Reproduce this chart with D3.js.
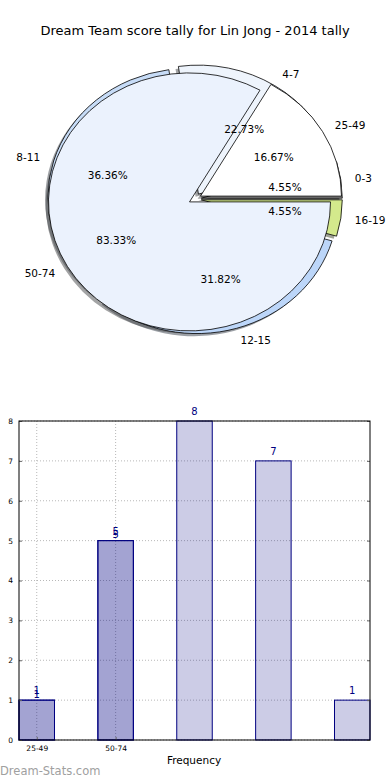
<!DOCTYPE html>
<html>
<head>
<meta charset="utf-8">
<script src="https://cdn.jsdelivr.net/npm/d3@7"></script>
<style>
body { margin: 0; background: #fff; }
text { font-family: "DejaVu Sans", sans-serif; }
</style>
</head>
<body>
<div id="chart"></div>
<script>
// weekly score bands (first pie + bars)
var weeklyLabels = ["0-3", "4-7", "8-11", "12-15", "16-19"];
var weeklyCounts = [1, 5, 8, 7, 1];
var weeklyColors = ["#8c8c8c", "#eef4fc", "#c7dcf7", "#bcd6f9", "#d4e98c"];

// big score bands (second pie, drawn on top)
var bigLabels = ["25-49", "50-74"];
var bigCounts = [1, 5];
var bigColors = ["#ffffff", "#ebf2fd"];

// bar chart ticks
var barTickLabels = ["25-49", "50-74"];
var yTicks = [0, 1, 2, 3, 4, 5, 6, 7, 8];

var W = 390, H = 780;
var svg = d3.select("#chart").append("svg")
    .attr("width", W)
    .attr("height", H);

svg.append("text")
    .attr("x", 195)
    .attr("y", 35)
    .attr("text-anchor", "middle")
    .style("font-size", "13px")
    .text("Dream Team score tally for Lin Jong - 2014 tally");

/*
 * Pies
 */
var cx = 195, cy = 199, rx = 141, ry = 129, explode = 0.045;
var k = ry / rx;

var pie = d3.pie()
    .sort(null)
    .startAngle(Math.PI / 2)
    .endAngle(Math.PI / 2 - 2 * Math.PI);

var arc = d3.arc()
    .innerRadius(0)
    .outerRadius(rx);

function buildSlices(counts, colors, labels) {
    var total = d3.sum(counts);
    return pie(counts).map(function(a, i) {
        var m = (a.startAngle + a.endAngle) / 2;
        return {
            arc: a,
            color: colors[i],
            label: labels[i],
            pct: d3.format(".2f")(counts[i] / total * 100) + "%",
            ux: Math.sin(m),
            uy: -Math.cos(m)
        };
    });
}

var slices1 = buildSlices(weeklyCounts, weeklyColors, weeklyLabels);
var slices2 = buildSlices(bigCounts, bigColors, bigLabels);

var pieG = svg.append("g")
    .attr("transform", "translate(" + cx + "," + cy + ") scale(1," + k + ")");

function offset(d, dx, dy) {
    return "translate(" + (explode * rx * d.ux + dx) + "," + (explode * rx * d.uy + dy) + ")";
}

// shadows first (below every wedge)
[slices1, slices2].forEach(function(slices) {
    pieG.append("g").selectAll("path")
        .data(slices)
        .enter().append("path")
        .attr("d", function(d) { return arc(d.arc); })
        .attr("transform", function(d) { return offset(d, -0.02 * rx, 0.02 * rx); })
        .attr("fill", function(d) {
            var c = d3.rgb(d.color);
            return d3.rgb(c.r * 0.3, c.g * 0.3, c.b * 0.3);
        })
        .attr("fill-opacity", 0.5);
});

[slices1, slices2].forEach(function(slices) {
    pieG.append("g").selectAll("path")
        .data(slices)
        .enter().append("path")
        .attr("d", function(d) { return arc(d.arc); })
        .attr("transform", function(d) { return offset(d, 0, 0); })
        .attr("fill", function(d) { return d.color; })
        .attr("stroke", "#000")
        .attr("stroke-width", 0.8)
        .attr("vector-effect", "non-scaling-stroke")
        .attr("stroke-linejoin", "round");
});

[slices1, slices2].forEach(function(slices) {
    var g = svg.append("g");
    g.selectAll("text.lab")
        .data(slices)
        .enter().append("text")
        .attr("class", "lab")
        .attr("x", function(d) { return cx + (explode + 1.1) * rx * d.ux; })
        .attr("y", function(d) { return cy + (explode + 1.1) * ry * d.uy; })
        .attr("dy", "0.35em")
        .attr("text-anchor", function(d) { return d.ux > 0 ? "start" : "end"; })
        .style("font-size", "10.5px")
        .text(function(d) { return d.label; });
    g.selectAll("text.pct")
        .data(slices)
        .enter().append("text")
        .attr("class", "pct")
        .attr("x", function(d) { return cx + (explode + 0.6) * rx * d.ux; })
        .attr("y", function(d) { return cy + (explode + 0.6) * ry * d.uy; })
        .attr("dy", "0.35em")
        .attr("text-anchor", "middle")
        .style("font-size", "10.5px")
        .text(function(d) { return d.pct; });
});

/*
 * Bars
 */
var plotLeft = 19, plotRight = 370, plotTop = 421, plotBottom = 740;
var barW = 0.45;

var x = d3.scaleLinear().domain([0, 4.45]).range([plotLeft, plotRight]);
var y = d3.scaleLinear().domain([0, 8]).range([plotBottom, plotTop]);

var barG = svg.append("g");

// grid
barG.append("g").selectAll("line")
    .data(yTicks)
    .enter().append("line")
    .attr("x1", plotLeft).attr("x2", plotRight)
    .attr("y1", function(d) { return y(d); })
    .attr("y2", function(d) { return y(d); })
    .attr("stroke", "#b8b8b8")
    .attr("stroke-dasharray", "1,2");

barG.append("g").selectAll("line")
    .data(barTickLabels)
    .enter().append("line")
    .attr("x1", function(d, i) { return x(i + barW / 2); })
    .attr("x2", function(d, i) { return x(i + barW / 2); })
    .attr("y1", plotTop).attr("y2", plotBottom)
    .attr("stroke", "#b8b8b8")
    .attr("stroke-dasharray", "1,2");

[weeklyCounts, bigCounts].forEach(function(vals, s) {
    barG.append("g").selectAll("rect")
        .data(vals)
        .enter().append("rect")
        .attr("x", function(d, i) { return x(i); })
        .attr("width", function(d, i) { return x(i + barW) - x(i); })
        .attr("y", function(d) { return y(d); })
        .attr("height", function(d) { return y(0) - y(d); })
        .attr("fill", "navy")
        .attr("fill-opacity", 0.2)
        .attr("stroke", "navy")
        .attr("stroke-width", 1);
});

[weeklyCounts, bigCounts].forEach(function(vals, s) {
    barG.append("g").selectAll("text")
        .data(vals)
        .enter().append("text")
        .attr("x", function(d, i) { return x(i + barW / 2); })
        .attr("y", function(d) { return y(d) - (s === 0 ? 9.5 : 6); })
        .attr("dy", "0.35em")
        .attr("text-anchor", "middle")
        .attr("fill", "navy")
        .style("font-size", "10px")
        .text(function(d) { return d; });
});

// axes
var yAxis = d3.axisLeft(y).tickValues(yTicks).tickSize(-3).tickPadding(6);
var yAxisR = d3.axisRight(y).tickValues(yTicks).tickSize(-3).tickFormat("");
var xAxis = d3.axisBottom(x)
    .tickValues(barTickLabels.map(function(d, i) { return i + barW / 2; }))
    .tickFormat(function(d, i) { return barTickLabels[i]; })
    .tickSize(-3).tickPadding(6);

function styleAxis(g) {
    g.select(".domain").remove();
    g.selectAll(".tick line").attr("stroke", "#666");
    g.selectAll(".tick text")
        .style("font-family", "'DejaVu Sans', sans-serif")
        .style("font-size", "7.5px")
        .attr("fill", "#000");
}

svg.append("g").attr("transform", "translate(" + plotLeft + ",0)").call(yAxis).call(styleAxis);
svg.append("g").attr("transform", "translate(" + plotRight + ",0)").call(yAxisR).call(styleAxis);
svg.append("g").attr("transform", "translate(0," + plotBottom + ")").call(xAxis).call(styleAxis);

svg.append("rect")
    .attr("x", plotLeft).attr("y", plotTop)
    .attr("width", plotRight - plotLeft).attr("height", plotBottom - plotTop)
    .attr("fill", "none")
    .attr("stroke", "#000")
    .attr("stroke-width", 1);

svg.append("text")
    .attr("x", 194)
    .attr("y", 764)
    .attr("text-anchor", "middle")
    .style("font-size", "10.5px")
    .text("Frequency");

svg.append("text")
    .attr("x", 0)
    .attr("y", 775)
    .attr("fill", "#a0a0a0")
    .style("font-size", "11.5px")
    .text("Dream-Stats.com");
</script>
</body>
</html>
